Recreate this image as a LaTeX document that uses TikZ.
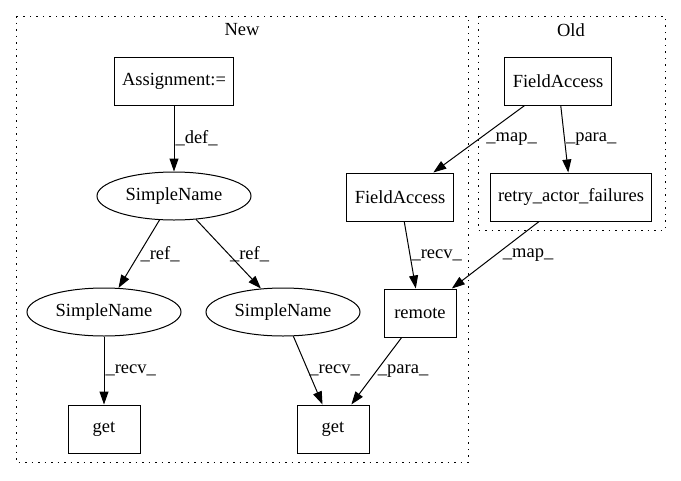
\documentclass[tikz,border=0pt]{standalone}
\usepackage{fontspec}
\setmainfont{Liberation Serif}
\usetikzlibrary{arrows.meta,shapes.geometric}
\begin{document}
\begin{tikzpicture}[x=1pt,y=-1pt,
    font=\fontsize{18.5}{20}\selectfont,
    box/.style={draw,line width=1pt,rectangle,minimum width=72pt,minimum height=48pt,inner xsep=8pt},
    oval/.style={draw,line width=1pt,ellipse,minimum width=154pt,minimum height=48pt,inner sep=0pt},
    cluster/.style={draw,line width=1pt,dash pattern=on 1.5pt off 5pt},
    elabel/.style={right,inner sep=1pt}]
  \useasboundingbox (0,0) rectangle (681,480);
  \draw[cluster] (16,16) rectangle (468,462);
  \draw[cluster] (478,16) rectangle (665,230);
  \draw
    (242,30) node (newlbl){New}
    (571,30) node (oldlbl){Old}
    (174,81) node[box] (assign){Assignment:=}
    (174,196) node[oval] (sn){SimpleName}
    (104,312) node[oval] (snl){SimpleName}
    (283,312) node[oval] (snr){SimpleName}
    (104,429) node[box] (getl){get}
    (333,429) node[box] (getr){get}
    (400,197) node[box] (fanew){FieldAccess}
    (420,313) node[box] (remote){remote}
    (558,81) node[box] (faold){FieldAccess}
    (571,197) node[box] (retry){retry\_actor\_failures};
  \begin{scope}[line width=1pt,-{Triangle[length=13pt,width=9pt]}]
    \draw (assign) to node[elabel]{\_def\_} (sn);
    \draw (sn) to node[elabel]{\_ref\_} (snl);
    \draw (sn) to node[elabel]{\_ref\_} (snr);
    \draw (snl) to node[elabel]{\_recv\_} (getl);
    \draw (snr) to node[elabel]{\_recv\_} (getr);
    \draw (remote) to node[elabel]{\_para\_} (getr);
    \draw (fanew) to node[elabel]{\_recv\_} (remote);
    \draw (retry) to node[elabel,xshift=6pt]{\_map\_} (remote);
    \draw (faold) to node[elabel,xshift=6pt]{\_map\_} (fanew);
    \draw (faold) to node[elabel]{\_para\_} (retry);
  \end{scope}
\end{tikzpicture}
\end{document}
